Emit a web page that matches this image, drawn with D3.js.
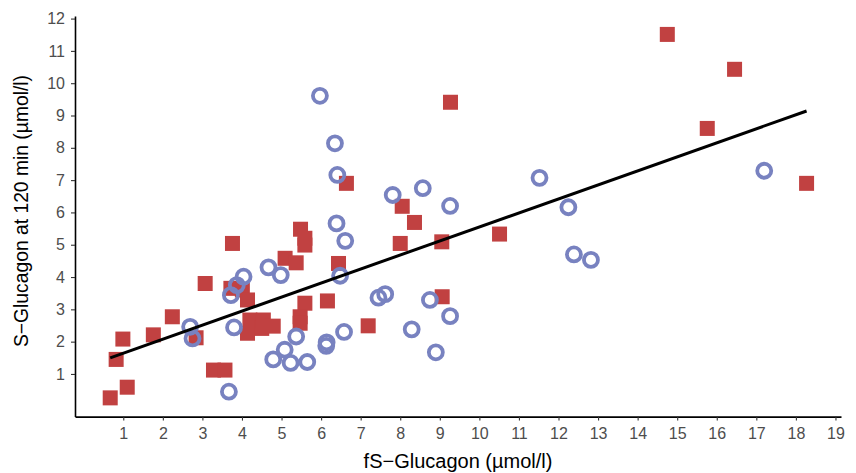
<!DOCTYPE html>
<html>
<head>
<meta charset="utf-8">
<script src="https://cdn.jsdelivr.net/npm/d3@7"></script>
<style>
  body { margin: 0; background: #fff; }
  text { font-family: "Liberation Sans", Arial, sans-serif; }
</style>
</head>
<body>
<div id="chart"></div>
<script>
// group 1: filled red squares
const redX = [0.67, 0.82, 0.99, 1.10, 1.76, 2.24, 2.84, 3.07, 3.28, 3.57, 3.76, 3.72, 4.01, 4.14, 4.14, 4.20, 4.50, 4.54, 4.79, 5.09, 5.37, 5.48, 5.59, 5.59, 5.59, 6.16, 5.47, 5.47, 6.44, 6.64, 7.19, 8.00, 8.05, 8.36, 9.05, 9.06, 9.27, 10.51, 14.75, 15.76, 16.45, 18.27];
const redY = [0.26, 1.45, 2.08, 0.59, 2.21, 2.77, 2.12, 3.80, 1.12, 1.12, 5.04, 3.65, 3.60, 3.29, 2.26, 2.67, 2.41, 2.67, 2.48, 4.58, 4.44, 5.48, 5.20, 4.99, 3.19, 3.26, 2.77, 2.57, 4.42, 6.90, 2.49, 5.04, 6.19, 5.69, 5.09, 3.39, 9.41, 5.33, 11.51, 8.60, 10.43, 6.90];

// group 2: open blue circles
const blueX = [2.69, 2.75, 3.67, 3.72, 3.80, 3.87, 4.04, 4.67, 4.98, 4.79, 5.08, 5.23, 5.37, 5.65, 6.14, 6.13, 6.58, 6.48, 6.61, 6.39, 7.45, 7.62, 8.29, 8.75, 8.90, 9.26, 5.97, 6.35, 6.41, 7.81, 8.57, 9.26, 11.52, 12.25, 12.39, 12.82, 17.20];
const blueY = [2.46, 2.10, 0.45, 3.44, 2.44, 3.75, 4.01, 4.30, 4.06, 1.45, 1.75, 1.34, 2.16, 1.37, 1.98, 1.87, 2.30, 4.04, 5.12, 5.66, 3.36, 3.47, 2.38, 3.29, 1.67, 2.79, 9.61, 8.14, 7.16, 6.54, 6.75, 6.20, 7.07, 6.16, 4.70, 4.53, 7.29];

// fitted line end points
const fitX = [0.67, 18.27];
const fitY = [1.50, 9.14];

const xTicks = d3.range(1, 20);
const yTicks = d3.range(1, 13);

const width = 856, height = 473;
const svg = d3.select("#chart").append("svg")
  .attr("width", width)
  .attr("height", height);

const x = d3.scaleLinear().domain([-0.22, 19.14]).range([75, 841]);
const y = d3.scaleLinear().domain([-0.32, 12.08]).range([416.6, 16]);

// axes
const xAxis = svg.append("g")
  .attr("transform", `translate(0,${y.range()[0]})`)
  .call(d3.axisBottom(x).tickValues(xTicks).tickSize(4).tickPadding(7).tickSizeOuter(0));
const yAxis = svg.append("g")
  .attr("transform", `translate(${x.range()[0]},0)`)
  .call(d3.axisLeft(y).tickValues(yTicks).tickSize(4).tickPadding(6).tickSizeOuter(0));

[xAxis, yAxis].forEach(a => {
  a.select(".domain").attr("stroke", "#000").attr("stroke-width", 1.6);
  a.selectAll(".tick line").attr("stroke", "#333").attr("stroke-width", 1.1);
  a.selectAll(".tick text")
    .attr("fill", "#4d4d4d")
    .style("font-size", "16px")
    .style("font-family", "'Liberation Sans', Arial, sans-serif");
});

// points
const red = redX.map((v, i) => ({x: v, y: redY[i]}));
const blue = blueX.map((v, i) => ({x: v, y: blueY[i]}));
const sq = 15;

svg.append("g").selectAll("rect")
  .data(red)
  .join("rect")
  .attr("x", d => x(d.x) - sq / 2)
  .attr("y", d => y(d.y) - sq / 2)
  .attr("width", sq)
  .attr("height", sq)
  .attr("fill", "#c14141");

svg.append("g").selectAll("circle")
  .data(blue)
  .join("circle")
  .attr("cx", d => x(d.x))
  .attr("cy", d => y(d.y))
  .attr("r", 7)
  .attr("fill", "none")
  .attr("stroke", "#7882c0")
  .attr("stroke-width", 3.8);

// regression line, drawn on top
svg.append("line")
  .attr("x1", x(fitX[0])).attr("y1", y(fitY[0]))
  .attr("x2", x(fitX[1])).attr("y2", y(fitY[1]))
  .attr("stroke", "#000")
  .attr("stroke-width", 3);

// axis titles
svg.append("text")
  .attr("x", (x.range()[0] + x.range()[1]) / 2)
  .attr("y", 468)
  .attr("text-anchor", "middle")
  .style("font-size", "20px")
  .attr("fill", "#000")
  .text("fS\u2212Glucagon (\u00b5mol/l)");

svg.append("text")
  .attr("transform", "translate(28,211) rotate(-90)")
  .attr("text-anchor", "middle")
  .style("font-size", "19.3px")
  .attr("fill", "#000")
  .text("S\u2212Glucagon at 120 min (\u00b5mol/l)");
</script>
</body>
</html>
